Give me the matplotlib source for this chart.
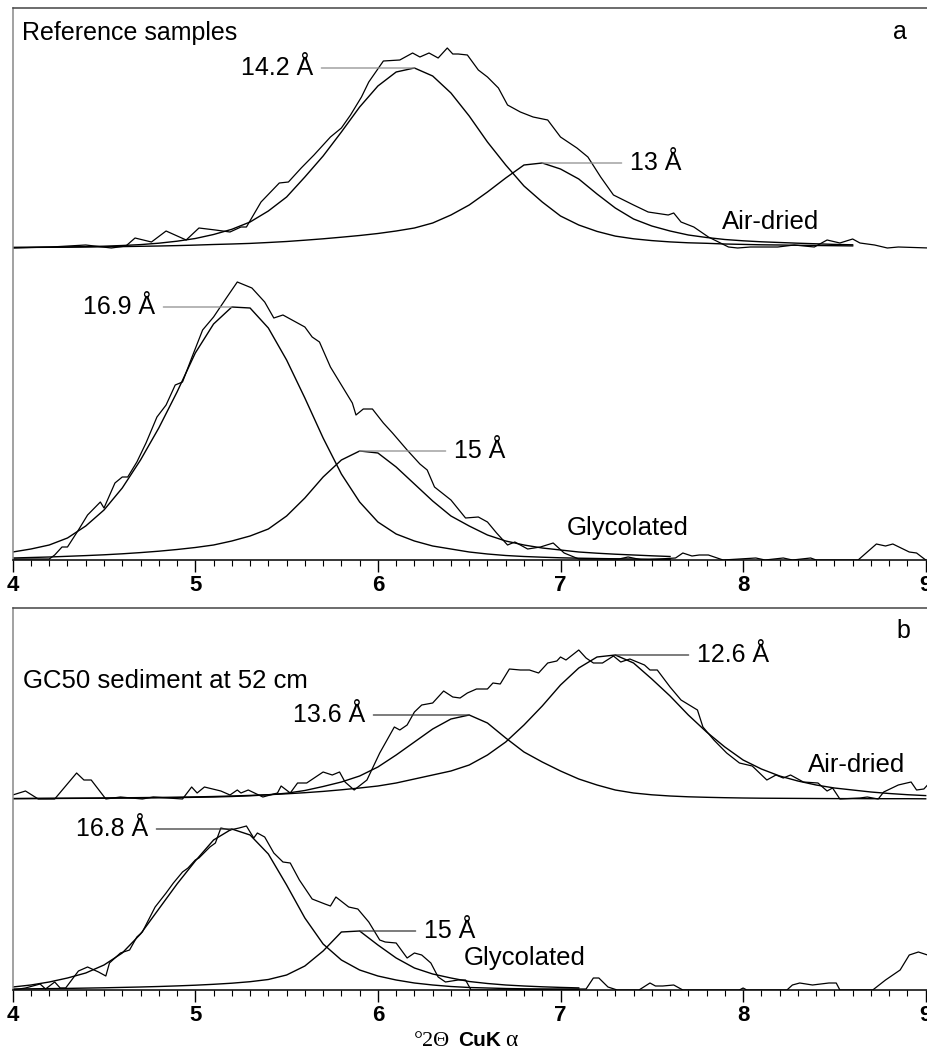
import numpy as np
import matplotlib
matplotlib.use("Agg")
import matplotlib.pyplot as plt
from matplotlib.ticker import MultipleLocator

plt.rcParams['font.family'] = ['Liberation Sans', 'DejaVu Sans']

# --------------------------------------------------
# 1. Measured traces (2theta, intensity above own baseline)
# --------------------------------------------------

# panel a, reference samples, air-dried
a_air_x = [4.00, 4.21, 4.40, 4.54, 4.62, 4.67, 4.76, 4.84, 4.95, 5.02, 5.11, 5.19, 5.25, 5.28, 5.36,
           5.46, 5.51, 5.58, 5.65, 5.74, 5.80, 5.85, 5.91, 5.95, 6.03, 6.12, 6.19, 6.23, 6.28, 6.33,
           6.38, 6.41, 6.44, 6.49, 6.55, 6.60, 6.66, 6.71, 6.78, 6.85, 6.93, 7.00, 7.09, 7.15, 7.22,
           7.29, 7.40, 7.48, 7.59, 7.62, 7.66, 7.73, 7.81, 7.92, 7.97, 8.04, 8.19, 8.28, 8.39, 8.46,
           8.53, 8.60, 8.64, 8.72, 8.79, 8.85, 9.02]
a_air_y = [0, 1, 3, 0, 2, 10, 6, 17, 8, 20, 18, 16, 21, 21, 46,
           65, 66, 80, 93, 111, 120, 133, 151, 166, 187, 188, 195, 191, 195, 190,
           200, 194, 194, 193, 178, 171, 160, 143, 136, 131, 128, 111, 100, 91, 71,
           53, 43, 36, 33, 35, 26, 21, 11, 1, 0, 1, 1, 3, 1, 8,
           5, 9, 5, 3, 0, 1, 0]

# panel a, reference samples, glycolated
a_gly_x = [4.00, 4.20, 4.23, 4.27, 4.30, 4.36, 4.41, 4.48, 4.50, 4.56, 4.60, 4.63, 4.68, 4.73, 4.79,
           4.84, 4.89, 4.93, 4.98, 5.04, 5.10, 5.17, 5.23, 5.31, 5.38, 5.43, 5.48, 5.53, 5.60, 5.64,
           5.68, 5.74, 5.79, 5.86, 5.88, 5.92, 5.97, 6.03, 6.08, 6.16, 6.23, 6.27, 6.31, 6.40, 6.48,
           6.55, 6.60, 6.65, 6.71, 6.75, 6.82, 6.89, 6.96, 7.02, 7.10, 7.32, 7.37, 7.45, 7.63, 7.67,
           7.72, 7.76, 7.81, 7.89, 8.07, 8.12, 8.22, 8.27, 8.37, 8.40, 8.63, 8.73, 8.78, 8.82, 8.91,
           8.95, 9.00]
a_gly_y = [1, 1, 5, 13, 13, 30, 45, 58, 52, 77, 83, 83, 98, 117, 143,
           155, 175, 178, 202, 230, 243, 262, 278, 272, 258, 242, 245, 240, 233, 223,
           218, 193, 178, 157, 145, 151, 151, 137, 127, 110, 96, 90, 73, 60, 42,
           43, 38, 27, 15, 18, 11, 13, 17, 7, 1, 1, 3, 0, 2, 7,
           4, 5, 5, 0, 2, 0, 2, 0, 2, 0, 0, 16, 14, 16, 8,
           7, 0]

# panel b, GC50 sediment, air-dried
b_air_x = [4.00, 4.07, 4.14, 4.23, 4.35, 4.39, 4.43, 4.51, 4.59, 4.71, 4.77, 4.93, 4.98, 5.01, 5.05,
           5.14, 5.19, 5.23, 5.25, 5.29, 5.37, 5.45, 5.47, 5.52, 5.56, 5.61, 5.70, 5.75, 5.79, 5.82,
           5.87, 5.94, 6.01, 6.09, 6.12, 6.16, 6.20, 6.24, 6.30, 6.36, 6.41, 6.45, 6.49, 6.54, 6.60,
           6.63, 6.67, 6.72, 6.78, 6.83, 6.88, 6.93, 6.98, 7.00, 7.03, 7.10, 7.14, 7.18, 7.23, 7.29,
           7.33, 7.38, 7.46, 7.49, 7.53, 7.60, 7.66, 7.75, 7.78, 7.84, 7.91, 7.98, 8.05, 8.13, 8.18,
           8.22, 8.26, 8.33, 8.41, 8.46, 8.49, 8.53, 8.64, 8.68, 8.74, 8.77, 8.85, 8.92, 8.95, 8.99,
           9.01]
b_air_y = [4, 8, 0, 0, 26, 19, 19, 0, 2, 0, 2, 0, 12, 6, 12,
           8, 4, 9, 6, 9, 2, 6, 13, 6, 16, 16, 27, 24, 27, 17,
           9, 19, 46, 72, 69, 74, 87, 94, 96, 108, 102, 101, 106, 110, 110,
           116, 115, 130, 129, 129, 126, 136, 138, 142, 139, 149, 141, 136, 136, 143,
           137, 140, 134, 129, 129, 112, 99, 89, 72, 59, 46, 36, 33, 19, 24,
           21, 24, 17, 16, 8, 11, 0, 1, 2, 0, 7, 14, 17, 9, 10,
           14]

# panel b, GC50 sediment, glycolated
b_gly_x = [4.00, 4.07, 4.15, 4.18, 4.23, 4.26, 4.29, 4.36, 4.41, 4.47, 4.51, 4.53, 4.59, 4.64, 4.68,
           4.71, 4.78, 4.84, 4.88, 4.93, 4.96, 5.00, 5.02, 5.08, 5.11, 5.14, 5.19, 5.24, 5.28, 5.32,
           5.34, 5.38, 5.43, 5.48, 5.52, 5.57, 5.64, 5.71, 5.74, 5.77, 5.84, 5.89, 5.95, 6.01, 6.04,
           6.10, 6.16, 6.20, 6.24, 6.29, 6.33, 6.37, 6.44, 6.48, 6.51, 6.62, 7.08, 7.14, 7.18, 7.21,
           7.26, 7.31, 7.43, 7.49, 7.52, 7.56, 7.62, 7.67, 7.98, 8.00, 8.02, 8.24, 8.27, 8.31, 8.38,
           8.47, 8.51, 8.53, 8.71, 8.78, 8.86, 8.91, 8.96, 9.01]
b_gly_y = [0, 2, 6, 1, 8, 2, 2, 19, 23, 18, 14, 27, 37, 40, 53,
           58, 83, 97, 107, 118, 122, 130, 132, 143, 147, 162, 160, 162, 164, 152,
           157, 153, 137, 128, 127, 110, 91, 86, 84, 93, 83, 81, 68, 50, 48,
           47, 32, 37, 35, 27, 13, 8, 10, 10, 0, 0, 1, 1, 12, 12,
           3, 0, 0, 7, 4, 4, 5, 0, 0, 2, 0, 0, 5, 7, 5,
           7, 7, 0, 0, 10, 20, 35, 38, 35]

# --------------------------------------------------
# 2. Fitted components, read every 0.1 degree
# --------------------------------------------------

a_air_fit_x = np.round(np.arange(4.0, 8.65, 0.1), 1)
fit_142 = [0.5, 0.7, 0.9, 1.1, 1.4, 1.8, 2.5, 3.4, 4.8, 6.8,
           9.5, 13.5, 18.7, 26, 37, 51, 71, 92, 116, 141,
           162, 176, 180, 172, 155, 132, 106, 83, 62, 46,
           32, 23, 16.6, 11.9, 9.2, 7.4, 6.1, 5.2, 4.7, 4.0,
           3.6, 3.2, 3.0, 2.7, 2.5, 2.3, 2.1]
fit_13 = [0.5, 0.6, 0.7, 0.8, 1.0, 1.2, 1.4, 1.7, 2.0, 2.4,
          2.9, 3.5, 4.0, 4.6, 5.5, 6.5, 7.8, 9.2, 10.8, 12.5,
          14.5, 17, 20, 25, 33, 43, 56, 70, 83, 85,
          79, 69, 54, 40, 29, 22, 17, 13, 10.5, 8.5,
          7.2, 6.2, 5.5, 4.8, 4.2, 3.6, 3.2]

a_gly_fit_x = np.round(np.arange(4.0, 7.65, 0.1), 1)
fit_169 = [8, 11, 15, 22, 34, 50, 72, 100, 132, 168,
           207, 236, 253, 252, 232, 200, 162, 122, 86, 58,
           38, 26, 19, 14, 11, 8, 6, 4.5, 3.5, 2.8,
           2.2, 1.8, 1.5, 1.2, 1.0, 0.8, 0.6]
fit_15a = [2, 2.5, 3, 3.7, 4.4, 5.2, 6.2, 7.4, 8.8, 10.5,
           12.5, 15, 19, 24, 31, 44, 62, 83, 100, 109,
           107, 93, 76, 59, 44, 34, 25, 19, 15, 12,
           10, 8, 6.8, 5.8, 5, 4.2, 3.5]

b_air_fit_x = np.round(np.arange(4.0, 9.05, 0.1), 1)
fit_136 = [0.3, 0.4, 0.5, 0.6, 0.7, 0.8, 0.9, 1.0, 1.2, 1.4,
           1.7, 2.0, 2.5, 3.2, 4.2, 5.8, 8.5, 12.5, 17, 23,
           32, 44, 57, 70, 80, 84, 76, 61, 47, 37,
           28, 20, 14, 9, 6, 4.2, 3.0, 2.2, 1.7, 1.3,
           1.0, 0.8, 0.7, 0.6, 0.5, 0.4, 0.4, 0.3, 0.3, 0.3,
           0.2]
fit_126 = [0.5, 0.6, 0.7, 0.8, 0.9, 1.0, 1.2, 1.4, 1.6, 1.8,
           2.1, 2.5, 3.0, 3.6, 4.3, 5.2, 6.3, 7.6, 9.2, 11,
           13, 16, 20, 24, 28, 34, 44, 57, 74, 93,
           114, 131, 142, 144, 136, 120, 103, 84, 67, 52,
           39, 30, 23, 18, 14, 11, 9, 7, 5.5, 4.3,
           3.4]

b_gly_fit_x = np.round(np.arange(4.0, 7.15, 0.1), 1)
fit_168 = [3, 5, 8, 12, 17, 25, 37, 56, 81, 106,
           129, 150, 161, 155, 136, 105, 72, 46, 30, 20,
           14, 10, 7, 5, 3.5, 2.5, 2, 1.5, 1.2, 1,
           0.8, 0.6]
fit_15b = [1, 1.2, 1.4, 1.6, 1.9, 2.2, 2.6, 3.0, 3.5, 4.1,
           4.8, 5.7, 6.8, 8.3, 10.5, 15, 24, 39, 58, 59,
           45, 32, 22, 16, 12, 8.5, 6.5, 5, 4, 3.2,
           2.6, 2.1]

# vertical shift of the air-dried trace above the glycolated one
a_offset = 312
b_offset = 191

tick_values = [4, 5, 6, 7, 8, 9]
tick_labels = ['4', '5', '6', '7', '8', '9']

# --------------------------------------------------
# 3. Figure
# --------------------------------------------------

W, H = 928, 1064
x0 = 12.7          # pixel of 2theta = 4
px_per_deg = 182.6


def px(xpix):
    # pixel column -> 2theta
    return 4 + (xpix - x0) / px_per_deg


fig = plt.figure(figsize=(W / 100, H / 100), dpi=100)
ax_a = fig.add_axes([x0 / W, 1 - 560 / H, 1 - x0 / W, 552 / H])
ax_b = fig.add_axes([x0 / W, 1 - 990 / H, 1 - x0 / W, 382 / H])

tick_font = ['Liberation Sans Narrow', 'Liberation Sans']

for ax, top in [(ax_a, 552), (ax_b, 382)]:
    ax.set_xlim(4, px(W))
    ax.set_ylim(0, top)
    ax.spines['right'].set_visible(False)
    ax.spines['top'].set_color('#444444')
    ax.spines['left'].set_color('#888888')
    ax.spines['bottom'].set_color('black')
    for s in ['top', 'left', 'bottom']:
        ax.spines[s].set_linewidth(1.1)
    ax.set_yticks([])
    ax.set_xticks(tick_values)
    ax.set_xticklabels(tick_labels, fontweight='bold', fontsize=16, family=tick_font)
    ax.xaxis.set_minor_locator(MultipleLocator(0.1))
    ax.tick_params(axis='x', which='major', direction='out', length=8.5, width=1, pad=2)
    ax.tick_params(axis='x', which='minor', direction='out', length=4.5, width=0.8)

lw_trace = 0.9
lw_fit = 1.0

# panel a
ax_a.plot(a_air_x, np.array(a_air_y) + a_offset, color='black', lw=lw_trace)
ax_a.plot(a_air_fit_x, np.array(fit_142) + a_offset, color='black', lw=lw_fit)
ax_a.plot(a_air_fit_x, np.array(fit_13) + a_offset, color='black', lw=lw_fit)
ax_a.plot(a_gly_x, a_gly_y, color='black', lw=lw_trace)
ax_a.plot(a_gly_fit_x, fit_169, color='black', lw=lw_fit)
ax_a.plot(a_gly_fit_x, fit_15a, color='black', lw=lw_fit)

# panel b
ax_b.plot(b_air_x, np.array(b_air_y) + b_offset, color='black', lw=lw_trace)
ax_b.plot(b_air_fit_x, np.array(fit_136) + b_offset, color='black', lw=lw_fit)
ax_b.plot(b_air_fit_x, np.array(fit_126) + b_offset, color='black', lw=lw_fit)
ax_b.plot(b_gly_x, b_gly_y, color='black', lw=lw_trace)
ax_b.plot(b_gly_fit_x, fit_168, color='black', lw=lw_fit)
ax_b.plot(b_gly_fit_x, fit_15b, color='black', lw=lw_fit)


def peak_label(ax, text, fx, fy, offset, text_x, side, color):
    i = int(np.argmax(fy))
    xp, yp = fx[i], fy[i] + offset
    ha = 'right' if side == 'left' else 'left'
    rel = (1, 0.5) if side == 'left' else (0, 0.5)
    ax.annotate(text, xy=(xp, yp), xytext=(text_x, yp), ha=ha, va='center', fontsize=18,
                arrowprops=dict(arrowstyle='-', color=color, lw=0.9, shrinkA=4, shrinkB=0,
                                relpos=rel))


peak_label(ax_a, '14.2 Å', a_air_fit_x, fit_142, a_offset, px(313), 'left', '#8c8c8c')
peak_label(ax_a, '13 Å', a_air_fit_x, fit_13, a_offset, px(630), 'right', '#8c8c8c')
peak_label(ax_a, '16.9 Å', a_gly_fit_x, fit_169, 0, px(155), 'left', '#8c8c8c')
peak_label(ax_a, '15 Å', a_gly_fit_x, fit_15a, 0, px(454), 'right', '#8c8c8c')
peak_label(ax_b, '13.6 Å', b_air_fit_x, fit_136, b_offset, px(365), 'left', '#333333')
peak_label(ax_b, '12.6 Å', b_air_fit_x, fit_126, b_offset, px(697), 'right', '#333333')
peak_label(ax_b, '16.8 Å', b_gly_fit_x, fit_168, 0, px(148), 'left', '#333333')
peak_label(ax_b, '15 Å', b_gly_fit_x, fit_15b, 0, px(424), 'right', '#333333')

# sample / treatment labels
ax_a.text(px(22), 560 - 33, 'Reference samples', ha='left', va='center', fontsize=18)
ax_a.text(px(900), 560 - 32, 'a', ha='center', va='center', fontsize=18)
ax_a.text(px(722), 560 - 222, 'Air-dried', ha='left', va='center', fontsize=18.5)
ax_a.text(px(567), 560 - 528, 'Glycolated', ha='left', va='center', fontsize=18.5)

ax_b.text(px(23), 990 - 681, 'GC50 sediment at 52 cm', ha='left', va='center', fontsize=18.5)
ax_b.text(px(903), 990 - 631, 'b', ha='center', va='center', fontsize=18)
ax_b.text(px(808), 990 - 765, 'Air-dried', ha='left', va='center', fontsize=18.5)
ax_b.text(px(464), 990 - 958, 'Glycolated', ha='left', va='center', fontsize=18.5)

# x axis title: °2Θ CuK α
ty = 1 - 1041 / H
fig.text(414 / W, ty, '°2Θ', family='Liberation Serif', fontsize=16, ha='left', va='center')
fig.text(458 / W, ty, 'CuK', fontweight='bold', fontsize=15, ha='left', va='center',
         family=tick_font)
fig.text(505 / W, ty, 'α', family='Liberation Serif', fontsize=17, ha='left', va='center')

fig.savefig('out.png', dpi=100)
